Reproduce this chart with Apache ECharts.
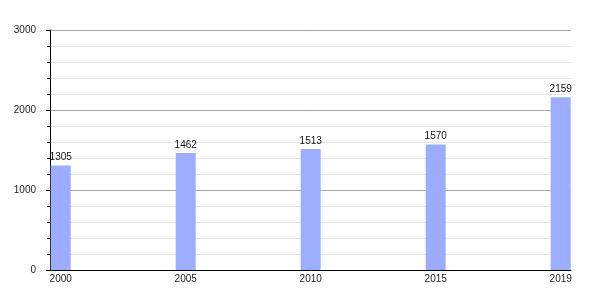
<!DOCTYPE html>
<html>
<head>
<meta charset="utf-8">
<script src="https://cdn.jsdelivr.net/npm/echarts@6/dist/echarts.min.js"></script>
<style>html,body{margin:0;padding:0;background:#fff}#c{width:600px;height:300px}</style>
</head>
<body>
<div id="c"></div>
<script>
const years = ['2000', '2005', '2010', '2015', '2019'];
const population = [1305, 1462, 1513, 1570, 2159];
const yTicks = [0, 1000, 2000, 3000];

const chart = echarts.init(document.getElementById('c'), null, {renderer: 'canvas'});
const font = 'Liberation Sans, Arial, sans-serif';
chart.setOption({
  animation: false,
  backgroundColor: '#fff',
  grid: {left: 50, right: 29, top: 30, bottom: 30, containLabel: false},
  xAxis: {
    type: 'value',
    min: -0.0856,
    max: 4.0824,
    axisLine: {show: true, onZero: false, lineStyle: {color: '#000', width: 1}},
    axisTick: {show: false},
    splitLine: {show: false},
    axisLabel: {
      customValues: years.map((y, i) => i),
      formatter: v => years[Math.round(v)],
      color: '#222', fontFamily: font, fontSize: 10, margin: 4
    }
  },
  yAxis: {
    type: 'value',
    min: yTicks[0],
    max: yTicks[yTicks.length - 1],
    interval: 1000,
    axisLine: {show: true, onZero: false, lineStyle: {color: '#000', width: 1}},
    axisTick: {show: true, length: 4, lineStyle: {color: '#000'}},
    minorTick: {show: true, splitNumber: 5, length: 3, lineStyle: {color: '#000'}},
    splitLine: {show: true, lineStyle: {color: '#a8a8a8', width: 1}},
    minorSplitLine: {show: true, lineStyle: {color: '#e4e4e4', width: 1}},
    axisLabel: {color: '#222', fontFamily: font, fontSize: 10, margin: 14, formatter: v => String(v)}
  },
  series: [{
    type: 'bar',
    barWidth: 20,
    data: population.map((v, i) => [i, v]),
    itemStyle: {color: '#9cadff'},
    label: {show: true, position: 'top', distance: 3, color: '#111', fontFamily: font, fontSize: 10,
      formatter: p => String(p.value[1])}
  }]
});
</script>
</body>
</html>
